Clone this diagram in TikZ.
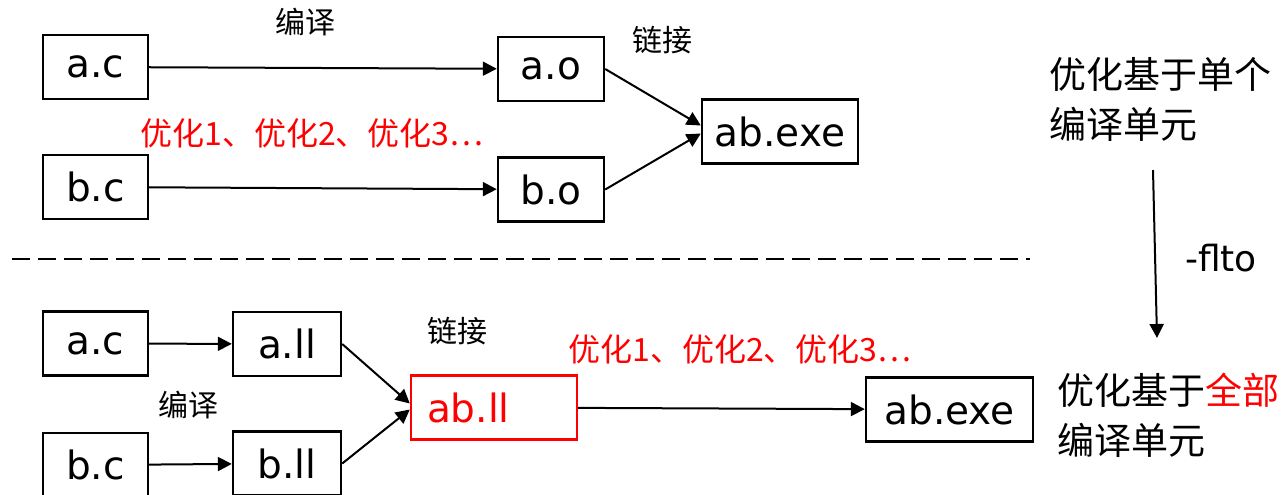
\documentclass[tikz,border=0pt]{standalone}
\usepackage{fontspec}
\setmainfont{DejaVu Sans}
\newfontfamily\cjk{Noto Sans CJK SC}
\usetikzlibrary{arrows.meta}

\tikzset{
  filebox/.style={draw, line width=1.2pt, minimum height=32pt, inner sep=2pt,
    font=\fontsize{19.5}{20}\selectfont},
  flow/.style={-{Triangle[length=7pt,width=7pt]}, line width=1pt},
  cnlabel/.style={font=\cjk\fontsize{15}{18}\selectfont},
  optlabel/.style={text=red, font=\cjk\fontsize{16}{18}\selectfont},
  note/.style={align=left, font=\cjk\fontsize{18.5}{25}\selectfont}
}

\begin{document}
\begin{tikzpicture}[x=0.5pt,y=-0.5pt]
\useasboundingbox (0,0) rectangle (1284,494);

  % per unit
  \node [filebox, minimum width=52.5pt] (ac) at (95.5,67) {a.c};
  \node [filebox, minimum width=52.5pt] (bc) at (95.5,187) {b.c};
  \node [filebox, minimum width=53pt] (ao) at (551,69) {a.o};
  \node [filebox, minimum width=53pt] (bo) at (551,189.5) {b.o};
  \node [filebox, minimum width=78pt] (exe) at (780,131.5) {ab.exe};
  \draw[flow] (ac) -- (ao);
  \draw[flow] (bc) -- (bo);
  \draw[flow] (ao.east) -- ([yshift=3pt]exe.west);
  \draw[flow] (bo.east) -- ([yshift=-1pt]exe.west);
  \node [cnlabel] (compA) at (305,22) {编译};
  \node [cnlabel] (linkA) at (662,40) {链接};
  \node [optlabel] (optA) at (312,133) {优化1、优化2、优化3…};

  \draw[dash pattern=on 9pt off 4pt, line width=0.7pt] (12,259) -- (1030,259);

  % whole program
  \node [filebox, minimum width=52.5pt] (ac2) at (95.5,343.5) {a.c};
  \node [filebox, minimum width=52.5pt] (bc2) at (95.5,465) {b.c};
  \node [filebox, minimum width=54pt] (all) at (287,344) {a.ll};
  \node [filebox, minimum width=54pt] (bll) at (287,463.5) {b.ll};
  \node [filebox, draw=red, text=red, text width=67pt, align=left, inner xsep=8pt,
    minimum width=83pt] (abll) at (494,407.5) {ab.ll};
  \node [filebox, minimum width=83.5pt] (exe2) at (949.5,409.5) {ab.exe};
  \draw[flow] (ac2) -- (all);
  \draw[flow] (bc2) -- (bll);
  \draw[flow] (all.east) -- ([yshift=2pt]abll.west);
  \draw[flow] (bll.east) -- ([yshift=-1pt]abll.west);
  \draw[flow] (abll) -- (exe2);
  \node [cnlabel] (linkB) at (457,331) {链接};
  \node [cnlabel] (compB) at (188,405) {编译};
  \node [optlabel] (optB) at (740,349) {优化1、优化2、优化3…};

  % right side
  \node [note, anchor=west] (single) at (1042,99) {优化基于单个\\编译单元};
  \node [note, anchor=west] (whole) at (1050,415) {优化基于\textcolor{red}{全部}\\编译单元};
  \coordinate (up) at (1153,170);
  \coordinate (down) at (1157,338);
  \draw[flow] (up) -- (down);
  \node [font=\fontsize{18}{20}\selectfont] (flto) at (1221,258) {-flto};
\end{tikzpicture}
\end{document}
